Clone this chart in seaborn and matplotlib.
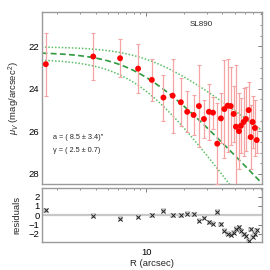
import numpy as np
import pandas as pd
import matplotlib
matplotlib.use("Agg")
import matplotlib.pyplot as plt
import seaborn as sns
from matplotlib.ticker import LogLocator, NullFormatter, FixedLocator, MultipleLocator

# ---------------- data ----------------
radius = [1.62, 3.83, 6.24, 8.65, 11.1, 13.7, 16.2, 18.8, 21.1, 23.7,
          26.1, 28.6, 31.3, 33.7, 36.4, 38.9, 41.4, 44.0, 46.5, 49.0,
          51.1, 54.0, 55.9, 58.7, 61.3, 64.4, 66.8, 69.1, 72.1, 74.5]
mu_v = [22.84, 22.48, 22.56, 23.05, 23.58, 24.41, 24.32, 24.63, 25.08, 25.23,
        24.81, 25.42, 25.08, 25.12, 26.58, 25.39, 24.95, 24.79, 24.81, 25.18,
        25.78, 25.99, 25.74, 25.56, 25.42, 25.00, 26.27, 25.56, 25.84, 26.41]
mu_err = [1.49, 1.11, 0.90, 1.15, 0.99, 1.08, 1.74, 1.13, 0.97, 0.94,
          1.94, 0.90, 1.31, 0.75, 1.90, 1.18, 2.30, 2.20, 1.84, 1.30,
          2.90, 1.80, 1.30, 1.60, 1.50, 1.30, 1.50, 1.20, 1.30, 0.60]
residuals = [0.52, -0.05, -0.38, -0.20, 0.00, 0.47, 0.00, 0.00, 0.18, 0.11,
             -0.61, -0.25, -0.75, -0.93, 0.36, -0.97, -1.68, -1.97, -2.11, -1.88,
             -1.45, -1.30, -1.65, -2.05, -2.25, -2.75, -1.50, -2.30, -2.05, -1.60]

# EFF profile fit and bounds: (mu0, a, gamma)
fit_best = (22.28, 8.5, 2.5)
fit_upper = (22.02, 11.0, 1.8)
fit_lower = (22.60, 8.5, 3.2)

label_name = "SL890"
label_a = "a = ( 8.5 ± 3.4)″"
label_g = "γ = ( 2.5 ± 0.7)"

# ---------------- style ----------------
sns.set_theme(style="white")
plt.rcParams['font.family'] = ['Liberation Sans', 'DejaVu Sans']
plt.rcParams['mathtext.fontset'] = 'custom'
plt.rcParams['mathtext.rm'] = 'Liberation Sans'
plt.rcParams['mathtext.it'] = 'Liberation Sans:italic'

df = pd.DataFrame({"R": radius, "mu": mu_v, "err": mu_err, "res": residuals})

def eff(r, p):
    mu0, a, g = p
    return mu0 + 1.25 * g * np.log10(1 + (r / a) ** 2)

fig = plt.figure(figsize=(2.7, 2.7), dpi=100)
ax = fig.add_axes([0.154, 0.319, 0.815, 0.637])
axr = fig.add_axes([0.154, 0.103, 0.815, 0.200])

rgrid = np.logspace(np.log10(1.5), np.log10(81.5), 300)
curves = pd.DataFrame({"R": rgrid,
                       "best": eff(rgrid, fit_best),
                       "up": eff(rgrid, fit_upper),
                       "lo": eff(rgrid, fit_lower)})

green = "#2f9a3f"
sns.lineplot(data=curves, x="R", y="up", ax=ax, color="#5cbf66", lw=1.1,
             linestyle=(0, (1, 1.2)))
sns.lineplot(data=curves, x="R", y="lo", ax=ax, color="#5cbf66", lw=1.1,
             linestyle=(0, (1, 1.2)))
sns.lineplot(data=curves, x="R", y="best", ax=ax, color=green, lw=1.2,
             linestyle=(0, (3.5, 2)))

ax.errorbar(df["R"], df["mu"], yerr=df["err"], fmt="none", ecolor="#f5a3a3",
            elinewidth=0.9, capsize=1.5, capthick=0.8, zorder=3)
sns.scatterplot(data=df, x="R", y="mu", ax=ax, color="#ff0000", s=18,
                edgecolor="none", zorder=4)

ax.set_xscale("log")
ax.set_xlim(1.5, 81.5)
ax.set_ylim(28.47, 20.38)
ax.set_yticks([22, 24, 26, 28])
ax.yaxis.set_minor_locator(MultipleLocator(0.5))
ax.xaxis.set_major_locator(FixedLocator([10]))
ax.xaxis.set_minor_locator(LogLocator(base=10, subs=np.arange(2, 10)))
ax.xaxis.set_minor_formatter(NullFormatter())
ax.set_xticklabels([])
ax.set_xlabel("")
ax.set_ylabel(r"$\mu_V$ (mag/arcsec$^2$)", fontsize=6.8)
ax.yaxis.set_label_coords(-0.09, 0.5)

ax.text(0.725, 0.928, label_name, transform=ax.transAxes, fontsize=5.8,
        ha="center", va="center")
ax.text(0.052, 0.27, label_a, transform=ax.transAxes, fontsize=5.3,
        ha="left", va="center")
ax.text(0.052, 0.195, label_g, transform=ax.transAxes, fontsize=5.3,
        ha="left", va="center")

# residuals
axr.axhline(0, color="#c8c8c8", lw=1.6, zorder=1)
sns.scatterplot(data=df, x="R", y="res", ax=axr, marker="s", s=12,
                color="#d0d0d0", edgecolor="none", zorder=2)
sns.scatterplot(data=df, x="R", y="res", ax=axr, marker="x", s=9,
                color="#222222", linewidth=0.7, zorder=3)
axr.set_xscale("log")
axr.set_xlim(1.5, 81.5)
axr.set_ylim(-2.9, 2.9)
axr.set_yticks([-2, -1, 0, 1, 2])
axr.xaxis.set_major_locator(FixedLocator([10]))
axr.xaxis.set_minor_locator(LogLocator(base=10, subs=np.arange(2, 10)))
axr.xaxis.set_minor_formatter(NullFormatter())
axr.set_xticklabels(["10"])
axr.set_xlabel("R (arcsec)", fontsize=6.8, labelpad=1.5)
axr.set_ylabel("residuals", fontsize=6.8)
axr.yaxis.set_label_coords(-0.09, 0.5)

for a in (ax, axr):
    for s in a.spines.values():
        s.set_color("#9a9a9a")
        s.set_linewidth(1.0)
    a.tick_params(which="both", direction="in", top=True, right=True,
                  colors="#666666", labelcolor="black", labelsize=6.8, pad=1.5)
    a.tick_params(which="major", length=3, width=0.6)
    a.tick_params(which="minor", length=1.6, width=0.5)
    a.grid(False)
axr.tick_params(axis="x", which="both", pad=4)

fig.savefig("out.png", dpi=100)
